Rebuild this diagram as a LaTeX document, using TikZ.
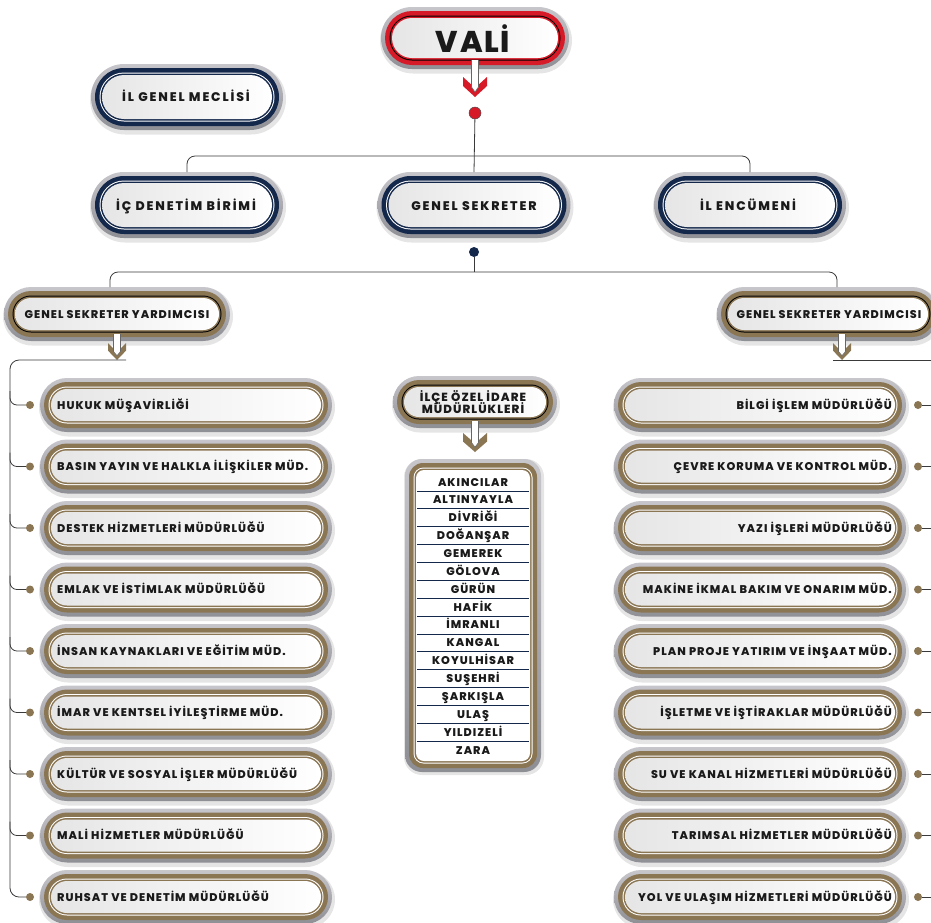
\documentclass[tikz,border=0pt]{standalone}
\usepackage{fontspec}
\newfontfamily\pop{Poppins}[LetterSpace=9, BoldFont={Poppins ExtraBold}]
\newfontfamily\poph{Poppins}[LetterSpace=15, BoldFont={Poppins ExtraBold}]
\newfontfamily\popv{Poppins}[LetterSpace=6, BoldFont={Poppins ExtraBold}]
\usetikzlibrary{shapes.misc,calc}
\definecolor{navy}{HTML}{14284B}
\definecolor{gold}{HTML}{8B7654}
\definecolor{vred}{HTML}{D71A28}
\definecolor{halotop}{HTML}{C6C6CB}
\definecolor{halobot}{HTML}{8E8E95}
\definecolor{ink}{HTML}{1A1A1A}
\definecolor{conn}{HTML}{3A3A3A}
\tikzset{
  pill/.style={rounded rectangle, inner sep=0pt, outer sep=0pt, draw=none},
  halo/.style={pill, top color=halotop, bottom color=halobot},
  innerfill/.style={pill, left color=black!10, right color=white},
  lbl/.style={font=\pop\bfseries\fontsize{11.2}{13}\selectfont, text=ink, inner sep=0pt},
  ilcetxt/.style={font=\pop\bfseries\fontsize{11.8}{13}\selectfont, text=ink, inner sep=0pt},
  listtxt/.style={font=\pop\bfseries\fontsize{11.2}{13}\selectfont, text=ink, inner sep=0pt},
  headtxt/.style={font=\poph\bfseries\fontsize{12.5}{14}\selectfont, text=ink, inner sep=0pt, anchor=base},
  cline/.style={draw=conn, line width=0.8pt},
  dotg/.style={circle, fill=gold, minimum size=8pt, inner sep=0pt},
  rowline/.style={draw=navy, line width=0.8pt},
}
\newcommand\pillbox[7]{%
  \node[pill, fill=black, opacity=0.10, minimum width={#4pt+4pt}, minimum height={#5pt+4pt}] at (#2+1,#3+2.5) {};
  \node[halo, minimum width=#4pt, minimum height=#5pt] (#1) at (#2,#3) {};
  \node[pill, fill=#6, minimum width={#4pt-8pt}, minimum height={#5pt-8pt}] at (#1) {};
  \node[pill, fill=#7, minimum width={#4pt-17pt}, minimum height={#5pt-17pt}] at (#1) {};
  \node[pill, fill=#6, minimum width={#4pt-19pt}, minimum height={#5pt-19pt}] at (#1) {};
  \node[innerfill, minimum width={#4pt-22pt}, minimum height={#5pt-22pt}] at (#1) {};
}
% name, x, stem top, chevron top, half width, height, colour
\newcommand\downarr[7]{%
  \fill[#7] (#2-#5,#4) -- (#2,#4+0.55*#6) -- (#2+#5,#4) -- (#2+#5,#4+0.45*#6) -- (#2,#4+#6) -- (#2-#5,#4+0.45*#6) -- cycle;
  \filldraw[fill=white, draw=black!60, line width=0.6pt] (#2-3.5,#3) -- (#2-3.5,#4+0.5*#6) -- (#2,#4+0.75*#6) -- (#2+3.5,#4+0.5*#6) -- (#2+3.5,#3);
  \coordinate (#1) at (#2,#4+#6);
}
\begin{document}
\begin{tikzpicture}[x=1pt,y=-1pt]
\useasboundingbox (0,0) rectangle (931,922);
\fill[white] (0,0) rectangle (931,922);

% ---------- top level ----------
\pillbox{vali}{475}{38}{188}{62}{vred}{black}
\node[font=\popv\bfseries\fontsize{30}{30}\selectfont, text=ink, inner sep=0pt, anchor=base] (valit) at (473,52) {VALİ};
\downarr{valiarr}{475}{60}{77}{12}{20}{vred}
\node[circle, fill=vred, draw=black!70, line width=0.5pt, minimum size=12pt, inner sep=0pt] (rdot) at (475,113) {};

\pillbox{meclis}{187}{97}{192}{66}{navy}{white}
\node[headtxt] (meclist) at (186,101.5) {İL GENEL MECLİSİ};

\pillbox{ic}{187}{205}{192}{66}{navy}{white}
\node[headtxt] (ict) at (186,210) {İÇ DENETİM BİRİMİ};
\pillbox{gs}{474}{205}{193}{66}{navy}{white}
\node[headtxt] (gst) at (474,210) {GENEL SEKRETER};
\pillbox{enc}{750}{205}{192}{66}{navy}{white}
\node[headtxt] (enct) at (748,210) {İL ENCÜMENİ};

\coordinate (hub1) at (475,156);
\draw[cline] (rdot) -- (gs.north);
\draw[cline, rounded corners=8pt] (ic.north) |- (hub1) -| (enc.north);

\node[circle, fill=navy, minimum size=10pt, inner sep=0pt] (ndot) at (474,252) {};
\coordinate (hub2) at (474,272);
\draw[cline] (ndot) -- (hub2);

% ---------- deputies ----------
\pillbox{gsyL}{117}{314}{226}{54}{gold}{black}
\node[lbl, anchor=base] (gsyLt) at (117,318.5) {GENEL SEKRETER YARDIMCISI};
\pillbox{gsyR}{828}{314}{222}{54}{gold}{black}
\node[lbl, anchor=base] (gsyRt) at (829,318.5) {GENEL SEKRETER YARDIMCISI};
\draw[cline, rounded corners=8pt] ([xshift=-7pt]gsyL.north) |- (hub2) -| ([xshift=9pt]gsyR.north);

\downarr{arrL}{117}{334}{343}{9}{17}{gold}
\downarr{arrR}{842}{334}{343}{9}{17}{gold}

% ---------- left column ----------
\coordinate (tLtop) at (10,360);
\coordinate (tLbot) at (10,897);
\foreach \t [count=\i] in {HUKUK MÜŞAVİRLİĞİ,BASIN YAYIN VE HALKLA İLİŞKİLER MÜD.,DESTEK HİZMETLERİ MÜDÜRLÜĞÜ,EMLAK VE İSTİMLAK MÜDÜRLÜĞÜ,İNSAN KAYNAKLARI VE EĞİTİM MÜD.,İMAR VE KENTSEL İYİLEŞTİRME MÜD.,KÜLTÜR VE SOSYAL İŞLER MÜDÜRLÜĞÜ,MALİ HİZMETLER MÜDÜRLÜĞÜ,RUHSAT VE DENETİM MÜDÜRLÜĞÜ}{
  \pgfmathsetmacro\yy{405+61.5*(\i-1)}
  \pillbox{L\i}{186}{\yy}{292}{54}{gold}{white}
  \node[lbl, anchor=base west] (L\i t) at (57,\yy+4) {\t};
  \node[dotg] (dL\i) at (30,\yy) {};
}
\draw[cline, rounded corners=9pt] ([xshift=9pt]arrL) -- (tLtop) -- (tLbot) -- (dL9.west);
\foreach \i in {1,...,8}{
  \draw[cline, rounded corners=7pt] ($(dL\i.west -| tLtop)+(0,-14)$) |- (dL\i.west);
}

% ---------- right column ----------
\coordinate (tRtop) at (942,360);
\coordinate (tRbot) at (942,897);
\foreach \t [count=\i] in {BİLGİ İŞLEM MÜDÜRLÜĞÜ,ÇEVRE KORUMA VE KONTROL MÜD.,YAZI İŞLERİ MÜDÜRLÜĞÜ,MAKİNE İKMAL BAKIM VE ONARIM MÜD.,PLAN PROJE YATIRIM VE İNŞAAT MÜD.,İŞLETME VE İŞTİRAKLAR MÜDÜRLÜĞÜ,SU VE KANAL HİZMETLERİ MÜDÜRLÜĞÜ,TARIMSAL HİZMETLER MÜDÜRLÜĞÜ,YOL VE ULAŞIM HİZMETLERİ MÜDÜRLÜĞÜ}{
  \pgfmathsetmacro\yy{405+61.5*(\i-1)}
  \pillbox{R\i}{760}{\yy}{292}{54}{gold}{white}
  \node[lbl, anchor=base east] (R\i t) at (892,\yy+4) {\t};
  \node[dotg] (dR\i) at (918,\yy) {};
  \draw[cline] (dR\i.east) -- (dR\i.east -| tRtop);
}
\draw[cline] ([xshift=-9pt]arrR) -- (tRtop) -- (tRbot);

% ---------- centre ----------
\pillbox{ilce}{475}{402}{164}{52}{gold}{black}
\node[ilcetxt, anchor=base] (ilce1) at (473,401.5) {İLÇE ÖZEL İDARE};
\node[ilcetxt, anchor=base] (ilce2) at (473,413.5) {MÜDÜRLÜKLERİ};
\downarr{arrC}{475}{421}{433}{12}{19}{gold}

\node[rectangle, rounded corners=18pt, fill=black, opacity=0.10, minimum width=140pt, minimum height=316pt, inner sep=0pt] at (474,617) {};
\node[rectangle, rounded corners=17pt, top color=halotop, bottom color=halobot, minimum width=136pt, minimum height=313pt, inner sep=0pt] (list) at (473,615.5) {};
\node[rectangle, rounded corners=14pt, fill=gold, minimum width=128pt, minimum height=305pt, inner sep=0pt] at (list) {};
\node[rectangle, rounded corners=10pt, fill=white, minimum width=119pt, minimum height=296pt, inner sep=0pt] at (list) {};
\node[rectangle, rounded corners=9pt, fill=gold, minimum width=117pt, minimum height=294pt, inner sep=0pt] at (list) {};
\node[rectangle, rounded corners=8pt, fill=white, minimum width=114pt, minimum height=291pt, inner sep=0pt] at (list) {};
\foreach \t [count=\i from 0] in {AKINCILAR,ALTINYAYLA,DİVRİĞİ,DOĞANŞAR,GEMEREK,GÖLOVA,GÜRÜN,HAFİK,İMRANLI,KANGAL,KOYULHİSAR,SUŞEHRİ,ŞARKIŞLA,ULAŞ,YILDIZELİ,ZARA}{
  \pgfmathsetmacro\yy{482+17.87*\i}
  \node[listtxt, anchor=base] (c\i) at (473,\yy+4) {\t};
}
\foreach \i in {0,...,14}{
  \draw[rowline] (417,{491+17.87*\i}) -- (529,{491+17.87*\i});
}
\end{tikzpicture}
\end{document}
